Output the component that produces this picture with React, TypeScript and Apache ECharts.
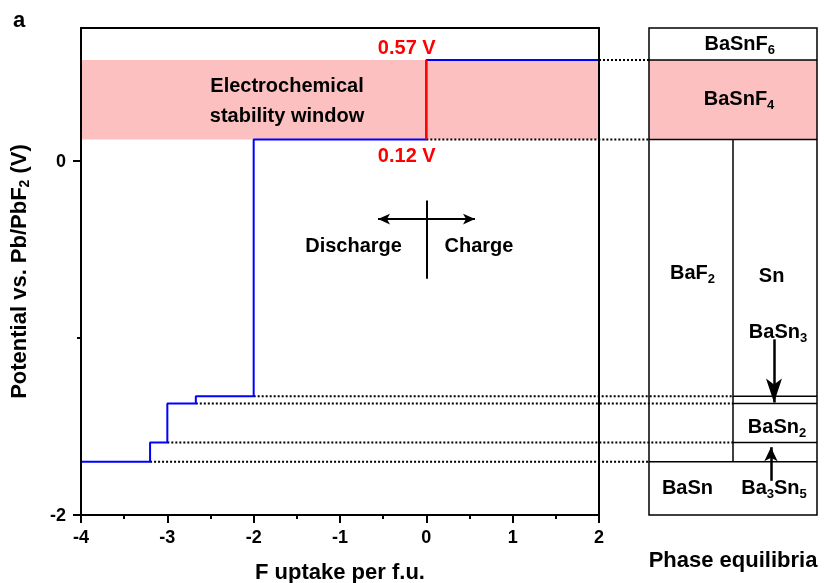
import React, { useEffect, useRef } from "react";
import * as echarts from "echarts";

// ---------------- data ----------------
const xTickValues = [-4, -3, -2, -1, 0, 1, 2];
const yTickLabelValues = [-2, 0];
const yMinorTickValues = [-1];
// voltage profile (step): potential stepV[i] holds from stepX[i] to stepX[i+1]
const stepX = [-4, -3.2, -3.0, -2.67, -2.0, 0, 2];
const stepV = [-1.7, -1.59, -1.37, -1.33, 0.12, 0.57, 0.57];
const windowBounds = [0.12, 0.57];
const windowLabels = ["0.12 V", "0.57 V"];
const phaseNames = ["BaSnF6", "BaSnF4", "BaF2", "Sn", "BaSn3", "BaSn2", "BaSn", "Ba3Sn5"];
const annotationTexts = ["Electrochemical\nstability window", "Discharge", "Charge"];

// ---------------- layout ----------------
const FONT = "'Liberation Sans', Arial, sans-serif";
const XMIN = -4, XMAX = 2, YMIN = -2, YMAX = 0.75;
const MAIN = { left: 81, top: 28, width: 518, height: 487 };
const PANEL = { left: 649, width: 168 };
const SPLIT = 0.5; // panel column divider (fraction of panel width)
const phaseLabelPos = [
  [0.54, 0.668], [0.536, 0.353], [0.259, -0.626], [0.73, -0.643],
  [0.768, -0.963], [0.762, -1.495], [0.229, -1.842], [0.744, -1.842],
];
const windowLabelX = -0.227;
const windowLabelY = [0.034, 0.642];
const annotationPos = [[-1.614, 0.344], [-0.843, -0.474], [0.61, -0.474]];

const sub = (t: string) =>
  t.split(/(\d+)/).filter(Boolean).map((p) => (/^\d+$/.test(p) ? `{s|${p}}` : `{b|${p}}`)).join("");

const rich = {
  b: { fontSize: 20, fontWeight: "bold", lineHeight: 26, color: "#000", fontFamily: FONT },
  s: { fontSize: 13, fontWeight: "bold", lineHeight: 10, verticalAlign: "bottom", color: "#000", fontFamily: FONT },
};

export default function App() {
  const ref = useRef<HTMLDivElement>(null);
  useEffect(() => {
    const chart = echarts.init(ref.current!, null, { renderer: "svg" });
    const xPerPx = (XMAX - XMIN) / MAIN.width;
    const overlayWidth = PANEL.left + PANEL.width - MAIN.left;
    const overlayMax = XMIN + overlayWidth * xPerPx;
    const panelEdgeX = XMIN + (PANEL.left - MAIN.left) * xPerPx;
    const dividerX = XMIN + (PANEL.left + PANEL.width * SPLIT - MAIN.left) * xPerPx;

    const fullLevels = [stepV[5], stepV[4], stepV[0]];
    const snLevels = [stepV[3], stepV[2], stepV[1]];

    const dotted: any[] = [];
    for (let i = 0; i < stepV.length - 1; i++) {
      const y = stepV[i];
      const end = fullLevels.includes(y) ? panelEdgeX : dividerX;
      dotted.push({
        type: "line", xAxisIndex: 2, yAxisIndex: 3, showSymbol: false, silent: true, z: 2,
        data: [[stepX[i + 1], y], [end, y]],
        lineStyle: { color: "#000", width: 2, type: [2, 2] },
      });
    }

    const panelSeg = (pts: number[][]) => ({
      type: "line", xAxisIndex: 1, yAxisIndex: 2, showSymbol: false, silent: true, z: 3,
      data: pts, lineStyle: { color: "#000", width: 1.5 },
    });
    const panelLines = [
      ...fullLevels.map((y) => panelSeg([[0, y], [1, y]])),
      ...snLevels.map((y) => panelSeg([[SPLIT, y], [1, y]])),
      panelSeg([[SPLIT, windowBounds[0]], [SPLIT, stepV[0]]]),
    ];

    const option: any = {
      animation: false,
      textStyle: { fontFamily: FONT },
      graphic: [
        { type: "text", left: 13, top: 8, style: { text: "a", fontSize: 22, fontWeight: "bold", fontFamily: FONT, fill: "#000" } },
      ],
      grid: [
        { left: MAIN.left, top: MAIN.top, width: MAIN.width, height: MAIN.height, outerBoundsMode: "none", containLabel: false, show: true, borderColor: "#000", borderWidth: 2, backgroundColor: "transparent", z: 8 },
        { left: PANEL.left, top: MAIN.top, width: PANEL.width, height: MAIN.height, outerBoundsMode: "none", containLabel: false, show: true, borderColor: "#000", borderWidth: 1.5, backgroundColor: "transparent", z: 8 },
        { left: MAIN.left, top: MAIN.top, width: overlayWidth, height: MAIN.height, outerBoundsMode: "none", containLabel: false, show: false },
      ],
      xAxis: [
        {
          type: "value", gridIndex: 0, min: XMIN, max: XMAX, interval: 1, z: 10,
          name: "F uptake per f.u.", nameLocation: "middle", nameGap: 45,
          nameTextStyle: { fontSize: 22, fontWeight: "bold", color: "#000", fontFamily: FONT },
          axisLine: { show: true, onZero: false, lineStyle: { color: "#000", width: 2 } },
          axisTick: { show: true, length: 8, customValues: xTickValues, lineStyle: { color: "#000", width: 2 } },
          minorTick: { show: true, splitNumber: 2, length: 4, lineStyle: { color: "#000", width: 2 } },
          axisLabel: { customValues: xTickValues, fontSize: 18, fontWeight: "bold", color: "#000", margin: 13, fontFamily: FONT },
          splitLine: { show: false },
        },
        {
          type: "value", gridIndex: 1, min: 0, max: 1,
          name: "Phase equilibria", nameLocation: "middle", nameGap: 33,
          nameTextStyle: { fontSize: 22, fontWeight: "bold", color: "#000", fontFamily: FONT },
          axisLine: { show: false, onZero: false }, axisTick: { show: false }, axisLabel: { show: false }, splitLine: { show: false },
        },
        {
          type: "value", gridIndex: 2, min: XMIN, max: overlayMax, show: false,
          axisLine: { show: false, onZero: false },
        },
      ],
      yAxis: [
        {
          type: "value", gridIndex: 0, min: YMIN, max: YMAX, position: "left", z: 10,
          name: "Potential vs. Pb/PbF{s|2} (V)", nameLocation: "middle", nameGap: 50,
          nameTextStyle: {
            fontSize: 22, fontWeight: "bold", color: "#000", fontFamily: FONT, lineHeight: 26,
            rich: { s: { fontSize: 14, fontWeight: "bold", lineHeight: 10, verticalAlign: "bottom", color: "#000", fontFamily: FONT } },
          },
          axisLine: { show: true, onZero: false, lineStyle: { color: "#000", width: 2 } },
          axisTick: { show: true, length: 8, customValues: yTickLabelValues, lineStyle: { color: "#000", width: 2 } },
          axisLabel: { customValues: yTickLabelValues, fontSize: 18, fontWeight: "bold", color: "#000", margin: 15, fontFamily: FONT },
          splitLine: { show: false },
        },
        {
          type: "value", gridIndex: 0, min: YMIN, max: YMAX, position: "left", offset: 0, z: 10,
          axisLine: { show: false, onZero: false },
          axisTick: { show: true, length: 4, customValues: yMinorTickValues, lineStyle: { color: "#000", width: 2 } },
          axisLabel: { show: false }, splitLine: { show: false },
        },
        {
          type: "value", gridIndex: 1, min: YMIN, max: YMAX, show: false,
          axisLine: { show: false, onZero: false },
        },
        {
          type: "value", gridIndex: 2, min: YMIN, max: YMAX, show: false,
          axisLine: { show: false, onZero: false },
        },
      ],
      series: [
        // stability window band (main)
        {
          type: "line", xAxisIndex: 0, yAxisIndex: 0, data: [], silent: true, z: 1,
          markArea: {
            silent: true, itemStyle: { color: "#fcc0c0" },
            data: [[{ yAxis: windowBounds[0] }, { yAxis: windowBounds[1] }]],
          },
        },
        // panel BaSnF4 cell
        {
          type: "line", xAxisIndex: 1, yAxisIndex: 2, data: [], silent: true, z: 1,
          markArea: {
            silent: true, itemStyle: { color: "#fcc0c0" },
            data: [[{ yAxis: windowBounds[0] }, { yAxis: windowBounds[1] }]],
          },
        },
        ...dotted,
        // voltage profile
        {
          type: "line", xAxisIndex: 0, yAxisIndex: 0, step: "end", showSymbol: false, silent: true, z: 4,
          data: stepX.map((x, i) => [x, stepV[i]]),
          lineStyle: { color: "#0000ff", width: 2 },
          markLine: {
            silent: true, symbol: ["arrow", "arrow"], symbolSize: [8, 12], animation: false,
            label: { show: false },
            lineStyle: { color: "#000", width: 2, type: "solid" },
            data: [
              [{ coord: [-0.56, -0.329] }, { coord: [0.564, -0.329] }],
              [{ coord: [0, -0.224], symbol: "none" }, { coord: [0, -0.666], symbol: "none" }],
            ],
          },
        },
        // window edge (red)
        {
          type: "line", xAxisIndex: 0, yAxisIndex: 0, showSymbol: false, silent: true, z: 5,
          data: [[0, windowBounds[0]], [0, windowBounds[1]]],
          lineStyle: { color: "#ff0000", width: 2 },
        },
        ...panelLines,
        // panel arrows
        {
          type: "line", xAxisIndex: 1, yAxisIndex: 2, data: [], silent: true, z: 6,
          markLine: {
            silent: true, symbol: ["none", "arrow"], animation: false,
            label: { show: false },
            lineStyle: { color: "#000", width: 2.5, type: "solid" },
            data: [
              [{ coord: [0.744, -1.008] }, { coord: [0.744, -1.365], symbolSize: [12, 24] }],
              [{ coord: [0.726, -1.807] }, { coord: [0.726, -1.617], symbolSize: [10, 14] }],
            ],
          },
        },
        // main text annotations
        {
          type: "scatter", xAxisIndex: 0, yAxisIndex: 0, symbolSize: 0, silent: true, z: 12,
          itemStyle: { opacity: 1, color: "rgba(0,0,0,0)" },
          label: { show: true, position: "inside", fontSize: 20, fontWeight: "bold", fontFamily: FONT },
          data: [
            ...windowLabels.map((t, i) => ({
              value: [windowLabelX, windowLabelY[i]],
              label: { formatter: t, color: "#ff0000" },
            })),
            ...annotationTexts.map((t, i) => ({
              value: annotationPos[i],
              label: { formatter: t, color: "#000", lineHeight: 30 },
            })),
          ],
        },
        // panel phase labels
        {
          type: "scatter", xAxisIndex: 1, yAxisIndex: 2, symbolSize: 0, silent: true, z: 12,
          itemStyle: { opacity: 1, color: "rgba(0,0,0,0)" },
          label: { show: true, position: "inside", fontSize: 20, fontWeight: "bold", fontFamily: FONT, color: "#000", rich },
          data: phaseNames.map((n, i) => ({ value: phaseLabelPos[i], label: { formatter: sub(n) } })),
        },
      ],
    };
    chart.setOption(option);
    return () => chart.dispose();
  }, []);
  return <div ref={ref} style={{ position: "fixed", left: 0, top: 0, width: 824, height: 583 }} />;
}
